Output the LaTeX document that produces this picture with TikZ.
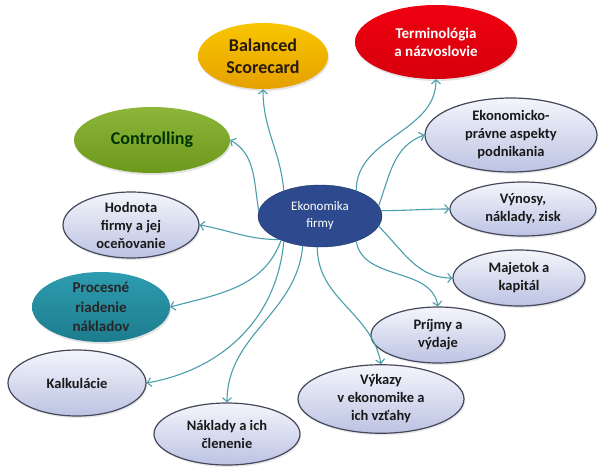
\documentclass[tikz,border=0pt]{standalone}
\usepackage{fontspec}
\setmainfont{Carlito}
\usetikzlibrary{shapes.geometric, arrows.meta, shadows}
\definecolor{navy}{HTML}{2E4A8E}
\definecolor{lineteal}{HTML}{4A9DAA}
\definecolor{lavtop}{HTML}{F4F5FB}
\definecolor{lavbot}{HTML}{BCC3E3}
\definecolor{lavedge}{HTML}{45475A}
\definecolor{goldtop}{HTML}{F8C600}
\definecolor{goldbot}{HTML}{E6A000}
\definecolor{redtop}{HTML}{F00010}
\definecolor{redbot}{HTML}{D6000C}
\definecolor{olivetop}{HTML}{8DB63A}
\definecolor{olivebot}{HTML}{6C981C}
\definecolor{tealtop}{HTML}{2E9CB0}
\definecolor{tealbot}{HTML}{1C7C8E}
\tikzstyle{topic} = [ellipse, inner sep=0pt, align=center, font=\bfseries\fontsize{14.5}{18}\selectfont,
	draw=lavedge, line width=1.2pt, top color=lavtop, bottom color=lavbot, text=black!90,
	drop shadow={opacity=0.18, shadow xshift=1pt, shadow yshift=-2pt}]
\tikzstyle{bright} = [ellipse, inner sep=0pt, align=center, draw=none,
	drop shadow={opacity=0.22, shadow xshift=1pt, shadow yshift=-2pt}]
\tikzstyle{arrow} = [-{Straight Barb[length=4pt, width=9pt]}, lineteal, line width=1.1pt]

\begin{document}
\begin{tikzpicture}[x=1pt, y=1pt]
	\useasboundingbox (0,0) rectangle (603,-472);

	% set up nodes
	\node (eko) [ellipse, inner sep=0pt, minimum width=124pt, minimum height=62pt, fill=navy, draw=navy!70!black,
		text=white, align=center, font=\fontsize{13}{17}\selectfont] at (320,-216) {Ekonomika\\firmy};
	\node (bsc) [bright, minimum width=130pt, minimum height=66pt, top color=goldtop, bottom color=goldbot,
		text=black!80!brown, font=\bfseries\fontsize{18}{22}\selectfont] at (263,-56) {Balanced\\Scorecard};
	\node (term) [bright, minimum width=162pt, minimum height=74pt, top color=redtop, bottom color=redbot,
		text=white, font=\bfseries\fontsize{15}{18}\selectfont] at (436,-42) {Terminológia\\a názvoslovie};
	\node (ctrl) [bright, minimum width=156pt, minimum height=66pt, top color=olivetop, bottom color=olivebot,
		text=black!80!green, font=\bfseries\fontsize{18}{22}\selectfont] at (152,-140) {Controlling};
	\node (proc) [bright, minimum width=138pt, minimum height=62pt, top color=tealtop, bottom color=tealbot,
		text=black!85, font=\bfseries\fontsize{15}{19.5}\selectfont] at (101,-307) {Procesné\\riadenie\\nákladov};
	\node (ekp) [topic, minimum width=172pt, minimum height=74pt] at (511,-135) {Ekonomicko-\\právne aspekty\\podnikania};
	\node (vyn) [topic, minimum width=146pt, minimum height=54pt] at (523,-209) {Výnosy,\\náklady, zisk};
	\node (hod) [topic, minimum width=136pt, minimum height=66pt] at (131,-225) {Hodnota\\firmy a jej\\oceňovanie};
	\node (kalk) [topic, minimum width=138pt, minimum height=66pt] at (77,-383) {Kalkulácie};
	\node (nakl) [topic, minimum width=146pt, minimum height=62pt] at (227,-434) {Náklady a ich\\členenie};
	\node (maj) [topic, minimum width=132pt, minimum height=56pt] at (519,-278) {Majetok a\\kapitál};
	\node (pri) [topic, minimum width=134pt, minimum height=56pt] at (438,-335) {Príjmy a\\výdaje};
	\node (vyk) [topic, minimum width=166pt, minimum height=62pt] at (381,-399) {Výkazy\\v ekonomike a\\ich vzťahy};

	% set up connectors
	\draw [arrow] (eko.145) to[out=95, in=-90] (bsc.south);
	\draw [arrow] (eko.175) to[out=100, in=-30] (ctrl.east);
	\draw [arrow] (eko.210) to[out=180, in=-10] (hod.east);
	\draw [arrow] (eko.212) to[out=-110, in=15] (proc.east);
	\draw [arrow] (eko.215) to[out=-95, in=10] (kalk.east);
	\draw [arrow] (eko.240) to[out=-95, in=90] (nakl.north);
	\draw [arrow] (eko.-95) to[out=-90, in=100] (vyk.north);
	\draw [arrow] (eko.-35) to[out=-80, in=100] (pri.north);
	\draw [arrow] (eko.-10) to[out=-45, in=180] (maj.west);
	\draw [arrow] (eko.5) to[out=0, in=180] (vyn.west);
	\draw [arrow] (eko.10) to[out=70, in=200] (ekp.west);
	\draw [arrow] (eko.35) to[out=90, in=-90] (term.south);

\end{tikzpicture}
\end{document}
